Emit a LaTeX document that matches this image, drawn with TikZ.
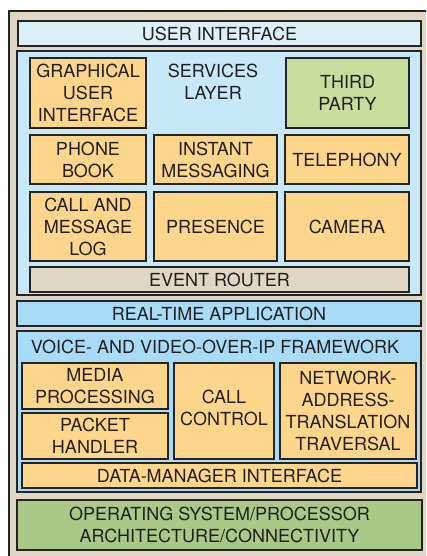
\documentclass[tikz,border=0pt]{standalone}
\usepackage{fontspec}
\setmainfont{TeX Gyre Heros}
\definecolor{beige}{HTML}{E0D6C4}
\definecolor{uiblue}{HTML}{DCF0FA}
\definecolor{svcblue}{HTML}{C7E8F8}
\definecolor{orangebox}{HTML}{FDD68C}
\definecolor{thirdgreen}{HTML}{C6DD9C}
\definecolor{rtblue}{HTML}{A8DCF6}
\definecolor{osgreen}{HTML}{A9C987}
\definecolor{linec}{HTML}{262324}
\definecolor{txt}{HTML}{231F20}
\tikzset{
  layer/.style={draw=linec, line width=2pt, inner sep=0pt, align=center, text=txt,
    font=\fontsize{18}{22}\selectfont},
}
% \bx{name}{x1}{y1}{x2}{y2}{fill}{text}
\newcommand{\bx}[7]{%
  \pgfmathsetmacro{\bw}{#4-#2}\pgfmathsetmacro{\bh}{#5-#3}%
  \node[layer, fill=#6, minimum width=\bw pt, minimum height=\bh pt] (#1) at ({(#2+#4)/2},{(#3+#5)/2}) {#7};}
\begin{document}
\begin{tikzpicture}[x=1pt,y=-1pt]
\useasboundingbox (0,0) rectangle (426,556);
\clip (0,0) rectangle (426,556);
\draw[draw=linec, line width=2.2pt, fill=beige] (9,11) rectangle (440,570);
\bx{ui}{18}{21}{421}{46}{uiblue}{USER INTERFACE}
\bx{svc}{17}{51}{421}{295}{svcblue}{}
\node[layer, draw=none] (svct) at (213,82) {SERVICES\\LAYER};
\bx{gui}{30}{58}{146}{128}{orangebox}{GRAPHICAL\\USER\\INTERFACE}
\bx{third}{286}{58}{409}{128}{thirdgreen}{THIRD\\PARTY}
\bx{phone}{30}{135}{146}{184}{orangebox}{PHONE\\BOOK}
\bx{im}{154}{135}{277}{184}{orangebox}{INSTANT\\MESSAGING}
\bx{tel}{285}{135}{409}{184}{orangebox}{TELEPHONY}
\bx{log}{30}{192}{146}{261}{orangebox}{CALL AND\\MESSAGE\\LOG}
\bx{pres}{154}{192}{277}{261}{orangebox}{PRESENCE}
\bx{cam}{285}{192}{409}{261}{orangebox}{CAMERA}
\bx{er}{30}{267}{409}{292}{beige}{EVENT ROUTER}
\bx{rt}{17}{301}{421}{326}{rtblue}{REAL-TIME APPLICATION}
\bx{voip}{17}{331}{421}{492}{rtblue}{}
\node[layer, draw=none] (voipt) at (215,347) {VOICE- AND VIDEO-OVER-IP FRAMEWORK};
\bx{media}{22}{363}{168}{409}{orangebox}{MEDIA\\PROCESSING}
\bx{packet}{22}{413}{168}{459}{orangebox}{PACKET\\HANDLER}
\bx{cc}{174}{363}{274}{459}{orangebox}{}
\node[layer, draw=none] (cct) at (224,408) {CALL\\CONTROL};
\bx{nat}{280}{363}{416}{459}{orangebox}{NETWORK-\\ADDRESS-\\TRANSLATION\\TRAVERSAL}
\bx{dmi}{22}{463}{417}{488}{orangebox}{DATA-MANAGER INTERFACE}
\bx{os}{17}{500}{422}{550}{osgreen}{OPERATING SYSTEM/PROCESSOR\\ARCHITECTURE/CONNECTIVITY}
\end{tikzpicture}
\end{document}
